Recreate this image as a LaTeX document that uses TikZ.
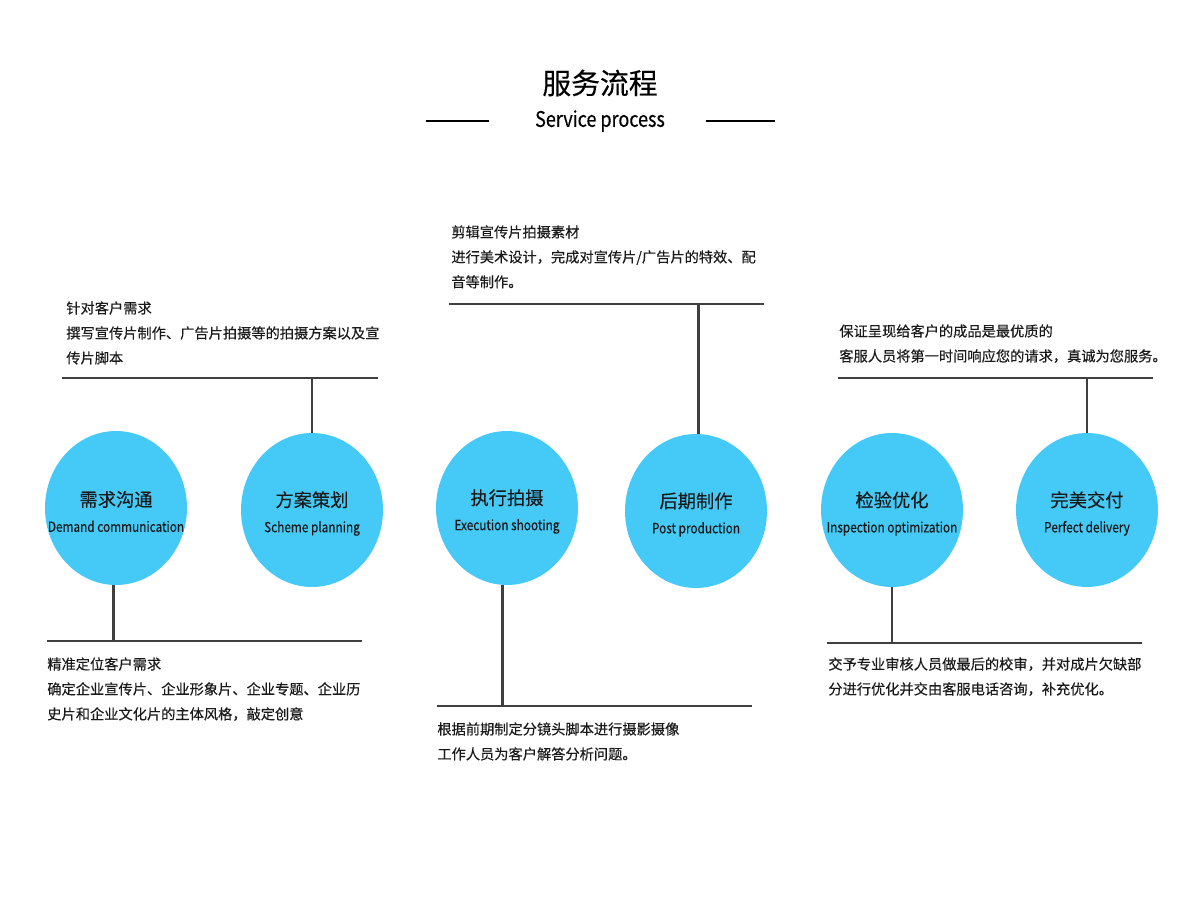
\documentclass[tikz,border=0pt]{standalone}
\usepackage{fontspec}
\setmainfont{Noto Sans CJK SC}[FakeBold=0.3]
\newfontfamily\latinsub{Noto Sans CJK SC}[FakeStretch=0.84, FakeBold=0.3]
\usetikzlibrary{shapes.geometric, positioning}
\definecolor{bubblue}{HTML}{45CAF7}
\definecolor{barcol}{HTML}{3F3F3F}
\definecolor{inkcol}{HTML}{1A1A1A}

\begin{document}
\begin{tikzpicture}[x=0.02cm, y=-0.02cm,
	bubble/.style={ellipse, fill=bubblue, minimum width=2.84cm, minimum height=3.08cm, inner sep=0pt},
	ctitle/.style={align=center, inner sep=0pt, text=inkcol, font=\fontsize{10.4pt}{14.5pt}\selectfont},
	note/.style={align=left, anchor=north west, inner sep=0pt, text=inkcol, font=\fontsize{8.1pt}{14.2pt}\selectfont},
	stem/.style={draw=barcol, line width=1.5pt}]
	\useasboundingbox (0,0) rectangle (1200,900);

	% heading
	\node[inner sep=0pt, font=\fontsize{16.4pt}{18pt}\selectfont] (head) at (600,83) {服务流程};
	\node[inner sep=0pt, font=\latinsub\fontsize{12.2pt}{14pt}\selectfont] (subhead) at (600,121) {Service process};
	\coordinate (hl1) at (426,121); \coordinate (hl2) at (489,121);
	\coordinate (hr1) at (706,121); \coordinate (hr2) at (775,121);
	\draw[line width=0.8pt] (hl1) -- (hl2);
	\draw[line width=0.8pt] (hr1) -- (hr2);

	% circles
	\draw (116,508) node[bubble] (c1) {}
		(312,510) node[bubble] (c2) {}
		(507,508) node[bubble] (c3) {}
		(696,511) node[bubble] (c4) {}
		(892,510) node[bubble] (c5) {}
		(1087,510) node[bubble] (c6) {};

	\node[ctitle] (t1) at ([yshift=-2pt]c1.center) {需求沟通\\{\latinsub\fontsize{8pt}{14.5pt}\selectfont Demand communication}};
	\node[ctitle] (t2) at ([yshift=-2pt]c2.center) {方案策划\\{\latinsub\fontsize{8pt}{14.5pt}\selectfont Scheme planning}};
	\node[ctitle] (t3) at ([yshift=-2pt]c3.center) {执行拍摄\\{\latinsub\fontsize{8pt}{14.5pt}\selectfont Execution shooting}};
	\node[ctitle] (t4) at ([yshift=-2pt]c4.center) {后期制作\\{\latinsub\fontsize{8pt}{14.5pt}\selectfont Post production}};
	\node[ctitle] (t5) at ([yshift=-2pt]c5.center) {检验优化\\{\latinsub\fontsize{8pt}{14.5pt}\selectfont Inspection optimization}};
	\node[ctitle] (t6) at ([yshift=-2pt]c6.center) {完美交付\\{\latinsub\fontsize{8pt}{14.5pt}\selectfont Perfect delivery}};

	% bars
	\coordinate (b1l) at (62,378);  \coordinate (b1r) at (378,378);
	\coordinate (b2l) at (449,304); \coordinate (b2r) at (764,304);
	\coordinate (b3l) at (838,378); \coordinate (b3r) at (1153,378);
	\coordinate (b4l) at (47,641);  \coordinate (b4r) at (362,641);
	\coordinate (b5l) at (437,706); \coordinate (b5r) at (752,706);
	\coordinate (b6l) at (827,643); \coordinate (b6r) at (1142,643);
	\draw[stem] (b1l) -- (b1r);
	\draw[stem] (b2l) -- (b2r);
	\draw[stem] (b3l) -- (b3r);
	\draw[stem] (b4l) -- (b4r);
	\draw[stem] (b5l) -- (b5r);
	\draw[stem] (b6l) -- (b6r);

	\draw[stem] (c2.north) -- (c2.north |- b1l);
	\draw[stem] ([xshift=1.5pt]c4.north) -- ([xshift=1.5pt]c4.north |- b2l);
	\draw[stem] (c6.north) -- (c6.north |- b3l);
	\draw[stem] ([xshift=-1.5pt]c1.south) -- ([xshift=-1.5pt]c1.south |- b4l);
	\draw[stem] ([xshift=-2.5pt]c3.south) -- ([xshift=-2.5pt]c3.south |- b5l);
	\draw[stem] (c5.south) -- (c5.south |- b6l);

	% notes
	\node[note] (n1) at (66,301) {针对客户需求\\撰写宣传片制作、广告片拍摄等的拍摄方案以及宣\\传片脚本};
	\node[note] (n2) at (451,225) {剪辑宣传片拍摄素材\\进行美术设计，完成对宣传片/广告片的特效、配\\音等制作。};
	\node[note] (n3) at (839,324) {保证呈现给客户的成品是最优质的\\客服人员将第一时间响应您的请求，真诚为您服务。};
	\node[note] (n4) at (47,657) {精准定位客户需求\\确定企业宣传片、企业形象片、企业专题、企业历\\史片和企业文化片的主体风格，敲定创意};
	\node[note] (n5) at (437,722) {根据前期制定分镜头脚本进行摄影摄像\\工作人员为客户解答分析问题。};
	\node[note] (n6) at (828,657) {交予专业审核人员做最后的校审，并对成片欠缺部\\分进行优化并交由客服电话咨询，补充优化。};
\end{tikzpicture}
\end{document}
